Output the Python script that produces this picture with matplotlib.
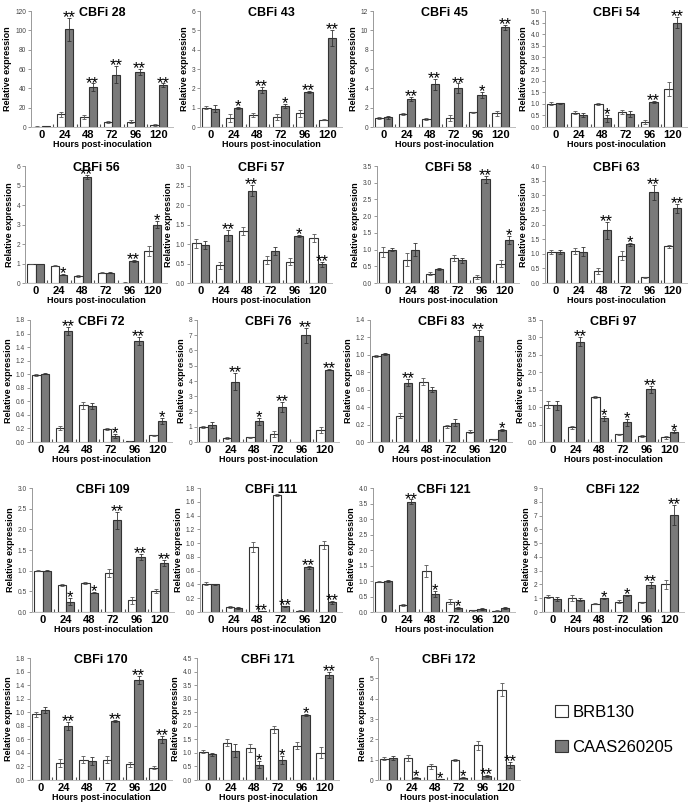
import numpy as np
import matplotlib
matplotlib.use("Agg")
import matplotlib.pyplot as plt
from matplotlib.patches import Patch

plt.rcParams['font.family'] = ['Liberation Sans', 'DejaVu Sans']

hours = ["0", "24", "48", "72", "96", "120"]
series_names = ["BRB130", "CAAS260205"]

# ---- data (relative expression, mean and error) ----
cbfi28_brb = [0.5, 13, 10, 5, 5.5, 2.5]
cbfi28_brb_err = [0.3, 3, 2, 1, 1.5, 1]
cbfi28_caas = [0.8, 101, 41, 54, 57, 43]
cbfi28_caas_err = [0.3, 12, 4, 9, 3, 2]
cbfi28_sig = ["", "**", "**", "**", "**", "**"]

cbfi43_brb = [1.0, 0.45, 0.6, 0.5, 0.7, 0.38]
cbfi43_brb_err = [0.08, 0.2, 0.1, 0.15, 0.2, 0.03]
cbfi43_caas = [0.95, 1.0, 1.9, 1.1, 1.8, 4.6]
cbfi43_caas_err = [0.2, 0.05, 0.15, 0.1, 0.05, 0.4]
cbfi43_sig = ["", "*", "**", "*", "**", "**"]

cbfi45_brb = [0.9, 1.3, 0.8, 0.95, 1.5, 1.4]
cbfi45_brb_err = [0.1, 0.1, 0.1, 0.3, 0.1, 0.3]
cbfi45_caas = [1.0, 2.9, 4.4, 4.0, 3.3, 10.3]
cbfi45_caas_err = [0.15, 0.2, 0.6, 0.5, 0.3, 0.3]
cbfi45_sig = ["", "**", "**", "**", "*", "**"]

cbfi54_brb = [1.0, 0.62, 1.0, 0.65, 0.22, 1.65]
cbfi54_brb_err = [0.07, 0.08, 0.05, 0.1, 0.07, 0.3]
cbfi54_caas = [1.02, 0.52, 0.38, 0.57, 1.07, 4.5]
cbfi54_caas_err = [0.03, 0.1, 0.15, 0.12, 0.05, 0.25]
cbfi54_sig = ["", "", "*", "", "**", "**"]

cbfi56_brb = [0.97, 0.88, 0.38, 0.52, 0.02, 1.65]
cbfi56_brb_err = [0.02, 0.03, 0.05, 0.02, 0.01, 0.25]
cbfi56_caas = [0.98, 0.42, 5.45, 0.52, 1.15, 3.0]
cbfi56_caas_err = [0.02, 0.03, 0.1, 0.02, 0.05, 0.2]
cbfi56_sig = ["", "*", "**", "", "**", "*"]

cbfi57_brb = [1.02, 0.45, 1.33, 0.6, 0.55, 1.15]
cbfi57_brb_err = [0.12, 0.1, 0.1, 0.1, 0.1, 0.1]
cbfi57_caas = [0.97, 1.22, 2.37, 0.82, 1.2, 0.48]
cbfi57_caas_err = [0.1, 0.15, 0.15, 0.1, 0.03, 0.07]
cbfi57_sig = ["", "**", "**", "", "*", "**"]

cbfi58_brb = [0.92, 0.7, 0.28, 0.75, 0.18, 0.58]
cbfi58_brb_err = [0.15, 0.2, 0.05, 0.08, 0.05, 0.1]
cbfi58_caas = [1.0, 1.0, 0.43, 0.68, 3.1, 1.3]
cbfi58_caas_err = [0.05, 0.2, 0.03, 0.07, 0.1, 0.12]
cbfi58_sig = ["", "", "", "", "**", "*"]

cbfi63_brb = [1.05, 1.1, 0.42, 0.93, 0.2, 1.25]
cbfi63_brb_err = [0.07, 0.1, 0.1, 0.15, 0.02, 0.05]
cbfi63_caas = [1.05, 1.07, 1.8, 1.33, 3.1, 2.55]
cbfi63_caas_err = [0.07, 0.15, 0.3, 0.05, 0.25, 0.15]
cbfi63_sig = ["", "", "**", "*", "**", "**"]

cbfi72_brb = [0.99, 0.2, 0.54, 0.19, 0.01, 0.1]
cbfi72_brb_err = [0.01, 0.03, 0.05, 0.02, 0.005, 0.01]
cbfi72_caas = [1.01, 1.64, 0.53, 0.09, 1.49, 0.31]
cbfi72_caas_err = [0.01, 0.06, 0.04, 0.03, 0.06, 0.05]
cbfi72_sig = ["", "**", "", "*", "**", "*"]

cbfi76_brb = [1.0, 0.25, 0.3, 0.5, 0.02, 0.8]
cbfi76_brb_err = [0.05, 0.05, 0.05, 0.2, 0.0, 0.2]
cbfi76_caas = [1.1, 3.95, 1.35, 2.3, 7.0, 4.75]
cbfi76_caas_err = [0.2, 0.55, 0.25, 0.35, 0.5, 0.05]
cbfi76_sig = ["", "**", "*", "**", "**", "**"]

cbfi83_brb = [0.99, 0.3, 0.69, 0.18, 0.12, 0.03]
cbfi83_brb_err = [0.01, 0.03, 0.04, 0.02, 0.02, 0.01]
cbfi83_caas = [1.01, 0.68, 0.6, 0.22, 1.22, 0.14]
cbfi83_caas_err = [0.01, 0.04, 0.03, 0.04, 0.06, 0.01]
cbfi83_sig = ["", "**", "", "", "**", "*"]

cbfi97_brb = [1.07, 0.42, 1.28, 0.22, 0.17, 0.13]
cbfi97_brb_err = [0.1, 0.05, 0.03, 0.02, 0.02, 0.05]
cbfi97_caas = [1.05, 2.88, 0.68, 0.57, 1.52, 0.3]
cbfi97_caas_err = [0.12, 0.12, 0.07, 0.1, 0.1, 0.03]
cbfi97_sig = ["", "**", "*", "*", "**", "*"]

cbfi109_brb = [1.0, 0.65, 0.7, 0.95, 0.28, 0.5]
cbfi109_brb_err = [0.01, 0.03, 0.02, 0.1, 0.08, 0.05]
cbfi109_caas = [1.0, 0.25, 0.47, 2.22, 1.33, 1.18]
cbfi109_caas_err = [0.01, 0.08, 0.01, 0.2, 0.08, 0.07]
cbfi109_sig = ["", "*", "*", "**", "**", "**"]

cbfi111_brb = [0.41, 0.07, 0.94, 1.7, 0.02, 0.97]
cbfi111_brb_err = [0.02, 0.01, 0.07, 0.01, 0.01, 0.06]
cbfi111_caas = [0.4, 0.06, 0.01, 0.08, 0.65, 0.14]
cbfi111_caas_err = [0.01, 0.01, 0.005, 0.01, 0.02, 0.02]
cbfi111_sig = ["", "", "**", "**", "**", "**"]

cbfi121_brb = [0.98, 0.22, 1.33, 0.33, 0.05, 0.04]
cbfi121_brb_err = [0.02, 0.03, 0.2, 0.08, 0.01, 0.01]
cbfi121_caas = [1.0, 3.56, 0.57, 0.12, 0.1, 0.12]
cbfi121_caas_err = [0.02, 0.07, 0.1, 0.03, 0.02, 0.03]
cbfi121_sig = ["", "**", "*", "*", "", ""]

cbfi122_brb = [1.1, 1.0, 0.6, 0.75, 0.7, 2.0]
cbfi122_brb_err = [0.1, 0.2, 0.05, 0.1, 0.05, 0.3]
cbfi122_caas = [0.95, 0.9, 1.0, 1.2, 1.95, 7.05]
cbfi122_caas_err = [0.15, 0.1, 0.03, 0.05, 0.2, 0.75]
cbfi122_sig = ["", "", "*", "*", "**", "**"]

cbfi170_brb = [0.97, 0.25, 0.3, 0.3, 0.23, 0.18]
cbfi170_brb_err = [0.04, 0.06, 0.05, 0.05, 0.04, 0.02]
cbfi170_caas = [1.03, 0.8, 0.28, 0.87, 1.48, 0.6]
cbfi170_caas_err = [0.04, 0.06, 0.06, 0.01, 0.06, 0.05]
cbfi170_sig = ["", "**", "", "**", "**", "**"]

cbfi171_brb = [1.05, 1.37, 1.18, 1.87, 1.27, 1.0]
cbfi171_brb_err = [0.07, 0.13, 0.13, 0.12, 0.12, 0.2]
cbfi171_caas = [0.95, 1.08, 0.57, 0.75, 2.4, 3.87]
cbfi171_caas_err = [0.05, 0.25, 0.13, 0.15, 0.05, 0.1]
cbfi171_sig = ["", "", "*", "*", "*", "**"]

cbfi172_brb = [1.05, 1.1, 0.68, 1.0, 1.7, 4.45]
cbfi172_brb_err = [0.07, 0.15, 0.12, 0.05, 0.2, 0.3]
cbfi172_caas = [1.1, 0.12, 0.06, 0.12, 0.22, 0.75]
cbfi172_caas_err = [0.1, 0.02, 0.01, 0.03, 0.05, 0.15]
cbfi172_sig = ["", "*", "*", "*", "**", "**"]

# (title, brb, brb_err, caas, caas_err, sig, ymax, ystep)
panels = [
    ("CBFi 28", cbfi28_brb, cbfi28_brb_err, cbfi28_caas, cbfi28_caas_err, cbfi28_sig, 120, 20),
    ("CBFi 43", cbfi43_brb, cbfi43_brb_err, cbfi43_caas, cbfi43_caas_err, cbfi43_sig, 6, 1),
    ("CBFi 45", cbfi45_brb, cbfi45_brb_err, cbfi45_caas, cbfi45_caas_err, cbfi45_sig, 12, 2),
    ("CBFi 54", cbfi54_brb, cbfi54_brb_err, cbfi54_caas, cbfi54_caas_err, cbfi54_sig, 5.0, 0.5),
    ("CBFi 56", cbfi56_brb, cbfi56_brb_err, cbfi56_caas, cbfi56_caas_err, cbfi56_sig, 6, 1),
    ("CBFi 57", cbfi57_brb, cbfi57_brb_err, cbfi57_caas, cbfi57_caas_err, cbfi57_sig, 3.0, 0.5),
    ("CBFi 58", cbfi58_brb, cbfi58_brb_err, cbfi58_caas, cbfi58_caas_err, cbfi58_sig, 3.5, 0.5),
    ("CBFi 63", cbfi63_brb, cbfi63_brb_err, cbfi63_caas, cbfi63_caas_err, cbfi63_sig, 4.0, 0.5),
    ("CBFi 72", cbfi72_brb, cbfi72_brb_err, cbfi72_caas, cbfi72_caas_err, cbfi72_sig, 1.8, 0.2),
    ("CBFi 76", cbfi76_brb, cbfi76_brb_err, cbfi76_caas, cbfi76_caas_err, cbfi76_sig, 8, 1),
    ("CBFi 83", cbfi83_brb, cbfi83_brb_err, cbfi83_caas, cbfi83_caas_err, cbfi83_sig, 1.4, 0.2),
    ("CBFi 97", cbfi97_brb, cbfi97_brb_err, cbfi97_caas, cbfi97_caas_err, cbfi97_sig, 3.5, 0.5),
    ("CBFi 109", cbfi109_brb, cbfi109_brb_err, cbfi109_caas, cbfi109_caas_err, cbfi109_sig, 3.0, 0.5),
    ("CBFi 111", cbfi111_brb, cbfi111_brb_err, cbfi111_caas, cbfi111_caas_err, cbfi111_sig, 1.8, 0.2),
    ("CBFi 121", cbfi121_brb, cbfi121_brb_err, cbfi121_caas, cbfi121_caas_err, cbfi121_sig, 4.0, 0.5),
    ("CBFi 122", cbfi122_brb, cbfi122_brb_err, cbfi122_caas, cbfi122_caas_err, cbfi122_sig, 9, 1),
    ("CBFi 170", cbfi170_brb, cbfi170_brb_err, cbfi170_caas, cbfi170_caas_err, cbfi170_sig, 1.8, 0.2),
    ("CBFi 171", cbfi171_brb, cbfi171_brb_err, cbfi171_caas, cbfi171_caas_err, cbfi171_sig, 4.5, 0.5),
    ("CBFi 172", cbfi172_brb, cbfi172_brb_err, cbfi172_caas, cbfi172_caas_err, cbfi172_sig, 6, 1),
]

# ---- layout (pixels) ----
W, H = 695, 805
row_top = [11, 166, 320, 488, 658]
row_bot = [127, 283, 442, 612, 780]
lefts = [[31, 200, 373, 545],
         [25, 190, 377, 545],
         [30, 197, 370, 542],
         [32, 200, 373, 542],
         [30, 197, 378]]
pw = 142

fig = plt.figure(figsize=(W / 100, H / 100), dpi=100)
fig.patch.set_facecolor("white")

x = np.arange(len(hours))
bw = 0.36
gray_fc = "#7a7a7a"
edge = "#333333"

k = 0
for r in range(5):
    for c in range(len(lefts[r])):
        title, brb, brb_e, caas, caas_e, sig, ymax, ystep = panels[k]
        k += 1
        l = lefts[r][c]
        ax = fig.add_axes([l / W, 1 - row_bot[r] / H, pw / W, (row_bot[r] - row_top[r]) / H])
        ax.bar(x - bw / 2, brb, bw, color="white", edgecolor=edge, linewidth=0.8,
               yerr=brb_e, error_kw=dict(elinewidth=0.6, capsize=1.5, capthick=0.6, ecolor="#555555"))
        ax.bar(x + bw / 2, caas, bw, color=gray_fc, edgecolor=edge, linewidth=0.8,
               yerr=caas_e, error_kw=dict(elinewidth=0.6, capsize=1.5, capthick=0.6, ecolor="#333333"))
        for i, s in enumerate(sig):
            if s:
                ax.annotate(s, (x[i] + bw / 2, caas[i] + caas_e[i]), xytext=(0, -3),
                            textcoords="offset points", ha="center", va="baseline",
                            fontsize=12, color="black")
        ax.set_xlim(-0.45, 5.6)
        ax.set_ylim(0, ymax)
        ticks = np.arange(0, ymax + ystep / 2, ystep)
        ax.set_yticks(ticks)
        if float(ystep).is_integer():
            ax.set_yticklabels(["%d" % t for t in ticks])
        else:
            ax.set_yticklabels(["%.1f" % t for t in ticks])
        ax.set_xticks(x)
        ax.set_xticklabels(hours, fontsize=8, fontweight="bold")
        ax.set_xticks(np.arange(0.5, 5.0, 1.0), minor=True)
        ax.tick_params(axis="x", which="major", length=0, pad=2)
        ax.tick_params(axis="x", which="minor", length=2, width=0.8, color="#555555", direction="in")
        ax.tick_params(axis="y", labelsize=4.8, length=2, width=0.6, color="#888888",
                       labelcolor="#444444", pad=1.5)
        for sp in ("top", "right"):
            ax.spines[sp].set_visible(False)
        ax.spines["left"].set_color("#999999")
        ax.spines["left"].set_linewidth(0.7)
        ax.spines["bottom"].set_color("#bbbbbb")
        ax.spines["bottom"].set_linewidth(0.7)
        ax.set_xlabel("Hours post-inoculation", fontsize=6.5, fontweight="bold", labelpad=0)
        ax.set_ylabel("Relative expression", fontsize=6.5, fontweight="bold", labelpad=2)
        ax.text(0.5, 0.98, title, transform=ax.transAxes, ha="center", va="center",
                fontsize=9, fontweight="bold")

handles = [Patch(facecolor="white", edgecolor=edge, linewidth=0.8),
           Patch(facecolor=gray_fc, edgecolor=edge, linewidth=0.8)]
fig.legend(handles, series_names, loc="upper left", bbox_to_anchor=(540 / W, 1 - 690 / H),
           frameon=False, fontsize=12, handlelength=0.75, handleheight=0.75,
           labelspacing=1.2, handletextpad=0.3)

fig.savefig("out.png", dpi=100, facecolor="white")
